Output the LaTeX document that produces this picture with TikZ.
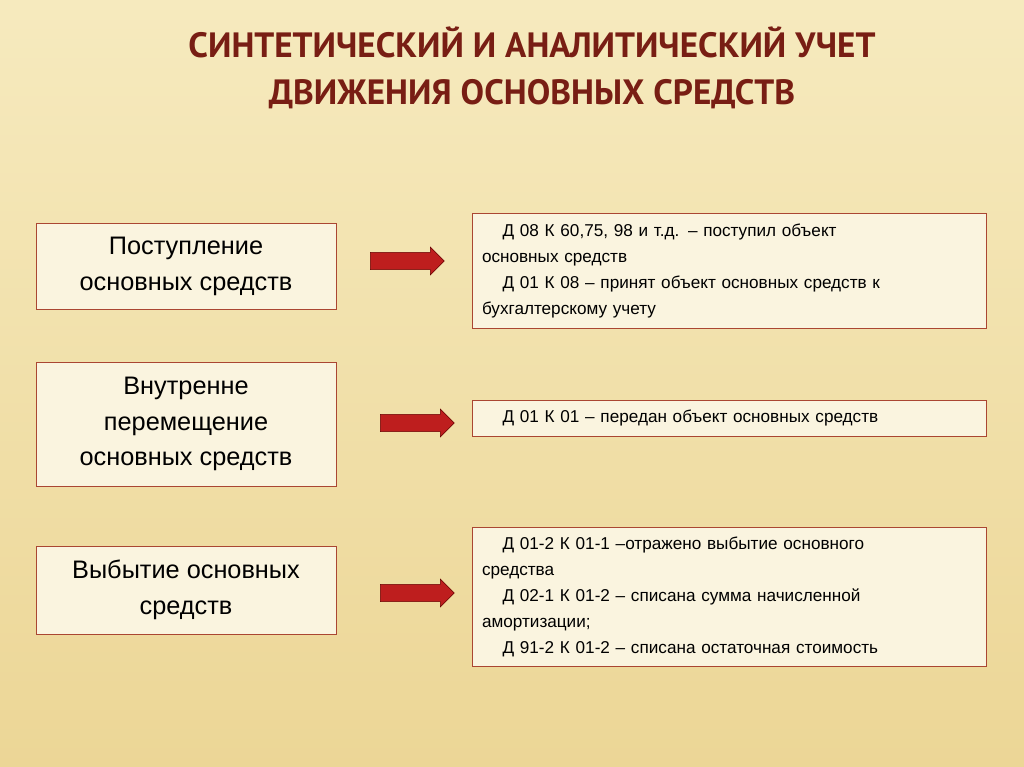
\documentclass[tikz,border=0pt]{standalone}
\usepackage{fontspec}
\setmainfont{Liberation Sans}
\newfontfamily\titlefont{PT Sans}
\usetikzlibrary{shapes.arrows,positioning,calc}
\definecolor{bgtop}{RGB}{246,234,190}
\definecolor{bgbot}{RGB}{236,214,150}
\definecolor{boxline}{RGB}{170,70,50}
\definecolor{arrowred}{RGB}{190,30,30}
\definecolor{titlered}{RGB}{120,30,20}

\begin{document}
\begin{tikzpicture}[x=0.025cm, y=-0.025cm,
    kind/.style={rectangle, draw=boxline, fill=bgtop!50!white, minimum width=300*0.025cm, align=center, font=\fontsize{18}{25.5}\selectfont},
    entry/.style={rectangle, draw=boxline, fill=bgtop!50!white, minimum width=514*0.025cm, text width=494*0.025cm, align=left, font=\fontsize{12.2}{18.5}\selectfont},
    fatarrow/.style={single arrow, draw=red!40!black, fill=arrowred, minimum width=28*0.025cm, single arrow head extend=2pt, minimum height=74*0.025cm, inner sep=3pt}
]
\fill[top color=bgtop, bottom color=bgbot] (0,0) rectangle (1024,767);

% Title
\node[font=\titlefont\bfseries\fontsize{25}{33}\selectfont, text=titlered, align=center] (title) at (532,68)
  {СИНТЕТИЧЕСКИЙ И АНАЛИТИЧЕСКИЙ УЧЕТ\\ ДВИЖЕНИЯ ОСНОВНЫХ СРЕДСТВ};

% Left column
\node[kind, minimum height=86*0.025cm] (income) at (186,266) {Поступление\\основных средств};
\node[kind, minimum height=124*0.025cm] (move) at (186,424) {Внутренне\\перемещение\\основных средств};
\node[kind, minimum height=88*0.025cm] (out) at (186,590) {Выбытие основных\\средств};

% Right column
\node[entry, minimum height=115*0.025cm] (incomeacc) at (729,271)
  {\hspace*{1.2em}Д 08 К 60,75, 98 и т.д. -- поступил объект\\основных средств\\\hspace*{1.2em}Д 01 К 08 -- принят объект основных средств к\\бухгалтерскому учету};
\node[entry, minimum height=36*0.025cm] (moveacc) at (729,418)
  {\hspace*{1.2em}Д 01 К 01 -- передан объект основных средств};
\node[entry, minimum height=139*0.025cm] (outacc) at (729,597)
  {\hspace*{1.2em}Д 01-2 К 01-1 --отражено выбытие основного\\средства\\\hspace*{1.2em}Д 02-1 К 01-2 -- списана сумма начисленной\\амортизации;\\\hspace*{1.2em}Д 91-2 К 01-2 -- списана остаточная стоимость};

% Arrows
\node[fatarrow] (a1) at (403,261) {};
\node[fatarrow] (a2) at (413,423) {};
\node[fatarrow] (a3) at (413,593) {};
\end{tikzpicture}
\end{document}
